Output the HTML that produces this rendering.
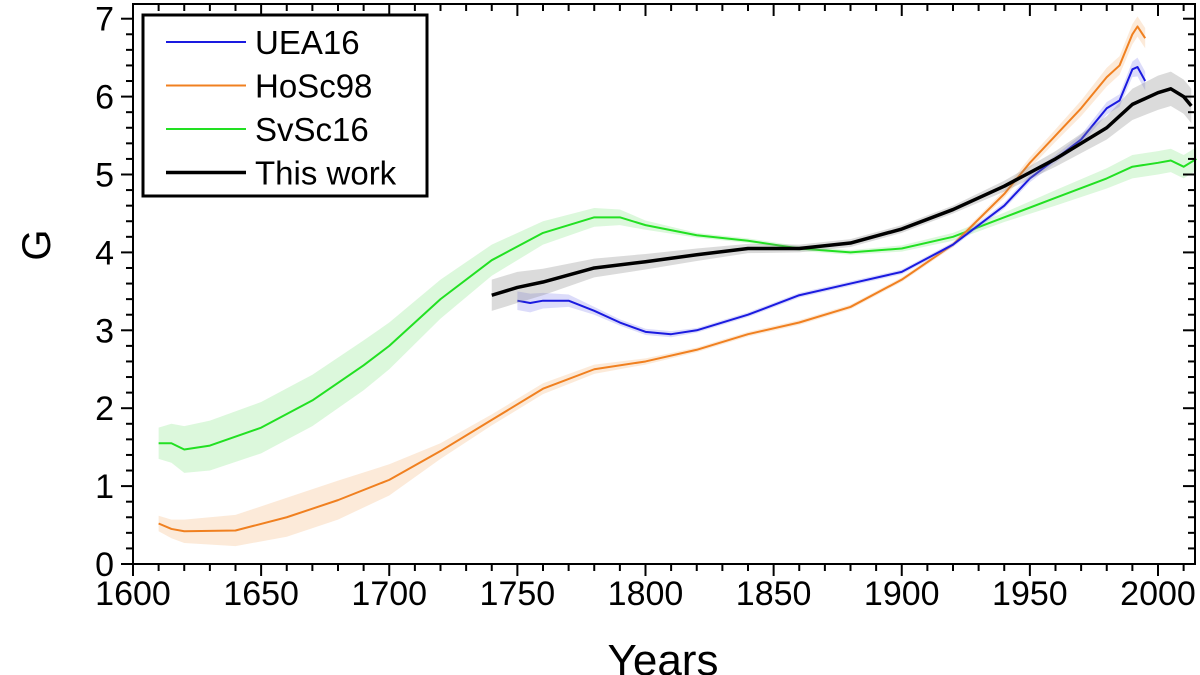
<!DOCTYPE html>
<html><head><meta charset="utf-8"><style>
html,body{margin:0;padding:0;background:#fff;}
svg{display:block;font-family:"Liberation Sans",Arial,sans-serif;}
</style></head><body>
<svg id="chart" width="1200" height="675" viewBox="0 0 1200 675" xmlns="http://www.w3.org/2000/svg"></svg>
<script>
const xTicks=[1600,1650,1700,1750,1800,1850,1900,1950,2000];
const yTicks=[0,1,2,3,4,5,6,7];
const svscYears=[1610,1615,1620,1630,1650,1670,1690,1700,1720,1740,1760,1780,1790,1800,1820,1840,1860,1880,1900,1920,1940,1960,1980,1990,2000,2005,2010,2015];
const svscVals=[1.55,1.55,1.47,1.52,1.75,2.1,2.55,2.8,3.4,3.9,4.25,4.45,4.45,4.35,4.22,4.15,4.05,4.0,4.05,4.2,4.45,4.7,4.95,5.1,5.15,5.18,5.1,5.2];
const svscErr=[0.2,0.25,0.3,0.32,0.33,0.33,0.32,0.3,0.25,0.2,0.15,0.12,0.1,0.06,0.03,0.03,0.03,0.03,0.04,0.05,0.06,0.1,0.13,0.15,0.15,0.15,0.15,0.15];
const hoscYears=[1610,1615,1620,1640,1660,1680,1700,1720,1740,1760,1780,1800,1820,1840,1860,1880,1900,1920,1940,1950,1960,1970,1980,1985,1990,1992,1995];
const hoscVals=[0.52,0.45,0.42,0.43,0.6,0.82,1.08,1.45,1.85,2.25,2.5,2.6,2.75,2.95,3.1,3.3,3.65,4.1,4.75,5.15,5.5,5.85,6.25,6.4,6.8,6.9,6.75];
const hoscErr=[0.1,0.12,0.15,0.2,0.25,0.25,0.2,0.1,0.07,0.07,0.06,0.04,0.03,0.03,0.03,0.03,0.03,0.03,0.05,0.07,0.08,0.1,0.12,0.12,0.13,0.13,0.13];
const ueaYears=[1750,1755,1760,1770,1780,1790,1800,1810,1820,1840,1860,1880,1900,1920,1940,1950,1960,1970,1980,1985,1990,1992,1995];
const ueaVals=[3.38,3.35,3.38,3.38,3.25,3.1,2.98,2.95,3.0,3.2,3.45,3.6,3.75,4.1,4.6,4.95,5.2,5.45,5.85,5.95,6.35,6.38,6.2];
const ueaErr=[0.12,0.12,0.1,0.08,0.05,0.04,0.04,0.04,0.03,0.03,0.03,0.03,0.03,0.03,0.04,0.05,0.05,0.06,0.08,0.08,0.1,0.12,0.12];
const workYears=[1740,1750,1760,1780,1800,1820,1840,1860,1880,1900,1920,1940,1960,1980,1990,2000,2005,2010,2013];
const workVals=[3.45,3.55,3.62,3.8,3.88,3.97,4.05,4.05,4.12,4.3,4.55,4.85,5.2,5.6,5.9,6.05,6.1,6.0,5.88];
const workErr=[0.2,0.2,0.17,0.12,0.1,0.08,0.06,0.05,0.05,0.05,0.05,0.07,0.1,0.15,0.2,0.22,0.22,0.22,0.22];

const NS="http://www.w3.org/2000/svg";
const svg=document.getElementById('chart');
const X0=133,X1=1195,Y0=564,YT=4;
const xs=y=>X0+(y-1600)*2.5625;
const ys=v=>Y0-v*77.9;
function mk(tag,attrs,parent){const e=document.createElementNS(NS,tag);for(const k in attrs)e.setAttribute(k,attrs[k]);(parent||svg).appendChild(e);return e;}

function series(name,years,vals,errs,color,band,width){
  const g=mk('g',{});
  
  
  let up=years.map((y,i)=>xs(y)+','+ys(vals[i]+errs[i]));
  let dn=years.map((y,i)=>xs(y)+','+ys(vals[i]-errs[i])).reverse();
  const b=mk('polygon',{points:up.concat(dn).join(' '),fill:band,'fill-opacity':0.3,stroke:'none'},g);
  
  
  const p=mk('polyline',{points:years.map((y,i)=>xs(y)+','+ys(vals[i])).join(' '),fill:'none',stroke:color,'stroke-width':width,'stroke-linejoin':'round'},g);
  
  
}
series('svsc16',svscYears,svscVals,svscErr,'#22e022','#8be88b',2);
series('hosc98',hoscYears,hoscVals,hoscErr,'#f08020','#f5b880',2);
series('uea16',ueaYears,ueaVals,ueaErr,'#1a1ae0','#8c8cf0',2);
series('this-work',workYears,workVals,workErr,'#000','#888',3.5);

const fr=mk('rect',{x:X0,y:YT,width:X1-X0,height:Y0-YT,fill:'none',stroke:'#000','stroke-width':2});


for(let y=1600;y<=2015;y+=10){
  const maj=y%50===0, len=maj?12:7;
  mk('line',{x1:xs(y),x2:xs(y),y1:Y0,y2:Y0+len,stroke:'#000','stroke-width':2});
  mk('line',{x1:xs(y),x2:xs(y),y1:YT,y2:YT+len,stroke:'#000','stroke-width':2});
}
xTicks.forEach(t=>{
  const tx=mk('text',{x:xs(t),y:605,'font-size':34,'text-anchor':'middle'});
  tx.textContent=t;
  
  
});
for(let v=0;v<=7.15;v+=0.2){
  const maj=Math.abs(v-Math.round(v))<1e-6, len=maj?12:7;
  mk('line',{x1:X0-len,x2:X0,y1:ys(v),y2:ys(v),stroke:'#000','stroke-width':2});
  mk('line',{x1:X1-len,x2:X1,y1:ys(v),y2:ys(v),stroke:'#000','stroke-width':2});
}
yTicks.forEach(t=>{
  const tx=mk('text',{x:114,y:ys(t)+12,'font-size':34,'text-anchor':'end'});
  tx.textContent=t;
  
  
});
const xt=mk('text',{x:663,y:675,'font-size':44,'text-anchor':'middle'});
xt.textContent='Years';


const yt=mk('text',{x:0,y:0,'font-size':40,'text-anchor':'middle',transform:'translate(50,245) rotate(-90)'});
yt.textContent='G';



const lg=mk('g',{});


mk('rect',{x:143,y:15,width:284,height:181,fill:'#fff',stroke:'#000','stroke-width':3},lg);
const legNames=['UEA16','HoSc98','SvSc16','This work'];
const legColors=['#1a1ae0','#f08020','#22e022','#000'];
const legW=[2,2,2,3.5];
legNames.forEach((n,i)=>{
  const y=42+i*43.5;
  const e=mk('g',{},lg);
  
  
  mk('line',{x1:166,x2:246,y1:y,y2:y,stroke:legColors[i],'stroke-width':legW[i]},e);
  const t=mk('text',{x:255,y:y+12,'font-size':33},e);
  t.textContent=n;
});
</script>
</body></html>
